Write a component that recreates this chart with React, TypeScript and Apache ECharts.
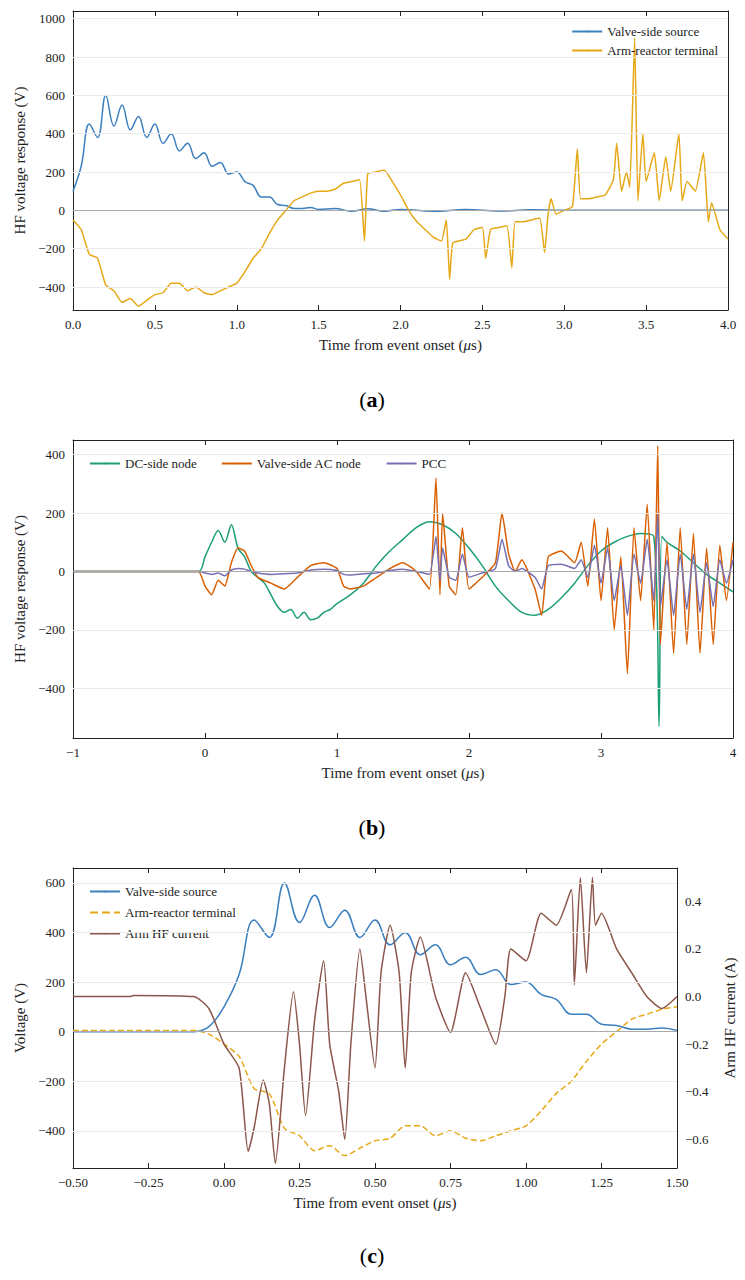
import React, { useEffect, useRef } from "react";
import * as echarts from "echarts";

// Panel (a)
const tValve = [0,0.05,0.1,0.15,0.2,0.25,0.3,0.35,0.4,0.45,0.5,0.55,0.6,0.65,0.7,0.75,0.8,0.85,0.9,0.95,1.0,1.05,1.1,1.15,1.2,1.25,1.3,1.35,1.4,1.45,1.5,1.6,1.7,1.8,1.9,2.0,2.2,2.4,2.6,2.8,3.0,3.5,4.0];
const valveSource = [100,230,450,380,600,440,550,420,490,380,450,350,400,310,350,270,300,230,250,190,200,150,130,70,70,30,25,10,10,15,5,10,-5,8,-5,5,-5,4,-4,3,0,0,0];
const tArm = [0,0.05,0.1,0.15,0.2,0.25,0.3,0.35,0.4,0.45,0.5,0.55,0.6,0.65,0.7,0.75,0.8,0.85,0.9,0.95,1.0,1.05,1.1,1.15,1.2,1.25,1.3,1.35,1.4,1.45,1.5,1.55,1.6,1.65,1.7,1.75,1.78,1.8,1.85,1.9,1.95,2.0,2.05,2.1,2.15,2.2,2.25,2.28,2.3,2.32,2.4,2.45,2.5,2.52,2.55,2.6,2.65,2.68,2.7,2.75,2.8,2.85,2.88,2.9,2.92,2.95,3.0,3.05,3.08,3.1,3.15,3.2,3.25,3.3,3.32,3.35,3.38,3.4,3.43,3.45,3.48,3.5,3.55,3.58,3.62,3.65,3.7,3.72,3.75,3.8,3.85,3.88,3.9,3.95,4.0];
const armTerminal = [-50,-100,-230,-250,-390,-420,-480,-460,-500,-470,-440,-430,-380,-380,-420,-400,-430,-440,-420,-400,-380,-320,-250,-200,-120,-50,0,50,70,90,100,100,110,140,150,160,-160,190,200,210,150,80,0,-60,-100,-140,-160,-50,-360,-170,-150,-100,-90,-250,-100,-90,-80,-300,-60,-60,-50,-40,-220,-30,60,-20,0,20,320,60,60,70,80,160,350,100,200,120,900,50,400,150,300,50,280,100,400,50,150,100,300,-60,40,-100,-150];

// Panel (b)
const tDc = [-1,-0.05,0,0.05,0.1,0.15,0.2,0.25,0.3,0.35,0.4,0.45,0.5,0.55,0.6,0.65,0.7,0.75,0.8,0.85,0.9,0.95,1.0,1.1,1.2,1.3,1.4,1.5,1.6,1.7,1.8,1.9,2.0,2.1,2.2,2.3,2.4,2.5,2.6,2.7,2.8,2.9,3.0,3.1,3.2,3.3,3.4,3.44,3.46,3.5,3.6,3.7,3.8,3.9,4.0];
const dcNode = [0,0,50,100,140,100,160,80,50,0,-20,-40,-80,-120,-140,-130,-160,-140,-165,-160,-140,-130,-110,-80,-40,20,70,110,150,170,160,130,80,20,-50,-100,-140,-150,-130,-90,-40,20,70,100,120,130,120,-530,120,100,70,30,-10,-40,-70];
const tAc = [-1,-0.05,0,0.05,0.1,0.15,0.2,0.25,0.3,0.35,0.4,0.5,0.6,0.7,0.8,0.9,1.0,1.05,1.1,1.2,1.3,1.4,1.5,1.6,1.7,1.75,1.78,1.8,1.85,1.9,1.95,2.0,2.1,2.2,2.25,2.3,2.35,2.4,2.5,2.55,2.6,2.7,2.8,2.85,2.9,2.95,3.0,3.05,3.1,3.15,3.2,3.25,3.3,3.35,3.4,3.43,3.45,3.5,3.55,3.6,3.65,3.7,3.75,3.8,3.85,3.9,3.95,4.0];
const acNode = [0,0,-50,-80,-30,-50,30,80,70,20,-20,-40,-60,-20,20,30,10,-50,-60,-50,-20,10,30,0,-60,320,-80,200,-50,-80,150,-60,-20,30,200,60,0,40,-60,-150,50,70,30,100,-50,180,-100,150,-200,50,-350,150,-100,230,-200,430,-250,100,-280,150,-250,130,-280,80,-250,90,-100,100];
const pccNode = [0,0,-5,-10,-5,-15,5,10,8,0,-5,-10,-8,-5,5,8,3,-10,-12,-8,-5,3,8,0,-10,120,-30,80,-20,-30,60,-20,-5,10,110,20,0,10,-20,-60,20,25,10,40,-20,90,-40,80,-100,20,-150,60,-40,110,-100,200,-120,40,-150,60,-130,60,-140,30,-120,40,-40,40];

// Panel (c)
const nValveC = tValve.filter((t) => t <= 1.5).length;
const tValveC = [-0.5,-0.1,-0.05,...tValve.slice(0, nValveC)];
const valveSourceC = [0,0,20,...valveSource.slice(0, nValveC)];
const nArmC = tArm.filter((t) => t <= 1.5).length;
const tArmC = [-0.5,-0.1,-0.05,...tArm.slice(0, nArmC)];
const armTerminalC = [5,5,-10,...armTerminal.slice(0, nArmC)];
const tCur = [-0.5,-0.31,-0.3,-0.1,-0.05,0,0.05,0.08,0.1,0.13,0.15,0.17,0.2,0.23,0.25,0.27,0.3,0.33,0.35,0.38,0.4,0.42,0.45,0.47,0.5,0.52,0.55,0.58,0.6,0.62,0.65,0.7,0.75,0.8,0.85,0.9,0.93,0.95,1.0,1.05,1.1,1.15,1.16,1.18,1.2,1.22,1.23,1.25,1.3,1.35,1.4,1.45,1.5];
const armCurrent = [0,0,0.005,0,-0.05,-0.2,-0.3,-0.65,-0.55,-0.35,-0.45,-0.7,-0.3,0.02,-0.2,-0.5,-0.1,0.15,-0.2,-0.4,-0.6,-0.2,0.2,0,-0.3,0.1,0.3,0.1,-0.3,0.1,0.25,0,-0.15,0.1,-0.05,-0.2,0,0.2,0.15,0.35,0.3,0.45,0.05,0.5,0.1,0.5,0.3,0.35,0.2,0.1,0,-0.05,0];

const ticksA = [-400,-200,0,200,400,600,800,1000];
const ticksB = [-400,-200,0,200,400];
const ticksC = [-400,-200,0,200,400,600];

const zip = (t: number[], v: number[]) => t.map((x, i) => [x, v[i]]);

const BLUE = "#3b7fbf", GOLD = "#e6a817", GREEN = "#1b9e77", ORANGE = "#d95f02", PURPLE = "#7570b3", BROWN = "#8c564b";
const FONT = "Liberation Serif";
const txt = { fontFamily: FONT, fontSize: 13, color: "#222" };

export default function App() {
  const ref = useRef<HTMLDivElement>(null);
  useEffect(() => {
    document.body.style.margin = "0";
    const chart = echarts.init(ref.current!, null, { renderer: "svg" });
    const grids = [
      { left: 73, right: 17, top: 11, height: 299 },
      { left: 73, right: 12, top: 440, height: 298 },
      { left: 73, right: 68, top: 868, height: 300 },
    ];
    const xRanges = [[0, 4, 0.5], [-1, 4, 1], [-0.5, 1.5, 0.25]];
    const xAxis: any[] = [];
    xRanges.forEach((r, i) => {
      xAxis.push({
        type: "value", gridIndex: i, min: r[0], max: r[1], interval: r[2],
        name: "Time from event onset ({i|μ}s)", nameLocation: "middle", nameGap: 27,
        nameTextStyle: { ...txt, fontSize: 15, rich: { i: { fontFamily: FONT, fontSize: 15, fontStyle: "italic" } } },
        axisLine: { onZero: false, lineStyle: { color: "#222" } },
        axisTick: { inside: true, length: 5, lineStyle: { color: "#222" } },
        axisLabel: { ...txt, formatter: (v: number) => (i === 2 ? v.toFixed(2) : i === 0 ? v.toFixed(1) : String(v)).replace("-", "−") },
        splitLine: { show: false },
      });
      xAxis.push({
        type: "value", gridIndex: i, min: r[0], max: r[1], interval: r[2], position: "top",
        axisLine: { onZero: false, lineStyle: { color: "#222" } },
        axisTick: { inside: true, length: 5, lineStyle: { color: "#222" } },
        axisLabel: { show: false }, splitLine: { show: false },
      });
    });
    const isMult = (v: number, step: number) => Math.abs(v / step - Math.round(v / step)) < 1e-6;
    const yMain = (i: number, min: number, max: number, interval: number, step: number, name: string, fmt?: any) => ({
      type: "value", gridIndex: i, min, max, interval, name, nameLocation: "middle", nameGap: 46,
      nameTextStyle: { ...txt, fontSize: 15 },
      axisLine: { show: true, onZero: false, lineStyle: { color: "#222" } },
      axisTick: { show: false },
      axisLabel: {
        ...txt, showMinLabel: true, showMaxLabel: true,
        formatter: (v: number) => (isMult(v, step) ? (fmt ? fmt(v) : String(Math.round(v)).replace("-", "−")) : ""),
      },
      splitLine: { show: false },
    });
    const yMirror = (i: number, min: number, max: number) => ({
      type: "value", gridIndex: i, min, max, position: "right",
      axisLine: { show: true, onZero: false, lineStyle: { color: "#222" } },
      axisTick: { show: false }, axisLabel: { show: false }, splitLine: { show: false },
    });
    const yAxis: any[] = [
      yMain(0, -520, 1040, 40, 200, "HF voltage response (V)"),
      yMirror(0, -520, 1040),
      yMain(1, -570, 450, 10, 200, "HF voltage response (V)"),
      yMirror(1, -570, 450),
      { ...yMain(2, -550, 660, 10, 200, "Voltage (V)"), nameGap: 40 },
      {
        ...yMain(2, -0.72, 0.54, 0.02, 0.2, "Arm HF current (A)", (v: number) => v.toFixed(1).replace("-", "−")),
        position: "right", nameGap: 45,
      },
    ];
    const grid = (ticks: number[]) => ({
      silent: true, symbol: "none", label: { show: false },
      data: [
        ...ticks.filter((t) => t !== 0).map((t) => ({ yAxis: t, lineStyle: { color: "#ebebeb", width: 1, type: "solid" } })),
        { yAxis: 0, lineStyle: { color: "#aaa", width: 1, type: "solid" } },
      ],
    });
    const line = (name: string, data: any[], color: string, xi: number, yi: number, smooth: number, dashed = false) => ({
      name, type: "line", data, xAxisIndex: xi, yAxisIndex: yi, showSymbol: false, symbol: "none", smooth,
      lineStyle: { color, width: 1.5, type: dashed ? "dashed" : "solid" }, itemStyle: { color },
    });
    const series: any[] = [
      { ...line("Valve-side source", zip(tValve, valveSource), BLUE, 0, 0, 0.4), markLine: grid(ticksA), z: 3 },
      line("Arm-reactor terminal", zip(tArm, armTerminal), GOLD, 0, 0, 0.15),
      { ...line("DC-side node", zip(tDc, dcNode), GREEN, 2, 2, 0.3), markLine: grid(ticksB) },
      line("Valve-side AC node", zip(tAc, acNode), ORANGE, 2, 2, 0.15),
      line("PCC", zip(tAc, pccNode), PURPLE, 2, 2, 0.15),
      { ...line("Valve-side source ", zip(tValveC, valveSourceC), BLUE, 4, 4, 0.4), markLine: grid(ticksC) },
      line("Arm-reactor terminal ", zip(tArmC, armTerminalC), GOLD, 4, 4, 0.25, true),
      line("Arm HF current", zip(tCur, armCurrent), BROWN, 4, 5, 0.2),
    ];
    const leg = { itemWidth: 30, itemHeight: 2, textStyle: { ...txt }, inactiveColor: "#ccc" };
    chart.setOption({
      animation: false,
      grid: grids,
      xAxis, yAxis, series,
      legend: [
        { ...leg, data: ["Valve-side source", "Arm-reactor terminal"], orient: "vertical", right: 22, top: 20, itemGap: 6 },
        { ...leg, data: ["DC-side node", "Valve-side AC node", "PCC"], orient: "horizontal", left: 84, top: 452, itemGap: 24 },
        { ...leg, data: ["Valve-side source ", "Arm-reactor terminal ", "Arm HF current"], orient: "vertical", left: 84, top: 880, itemGap: 8,
          formatter: (n: string) => n.trim() },
      ],
      graphic: [
        ["a", 399], ["b", 827], ["c", 1255],
      ].map(([l, y]) => ({
        type: "text", x: 372, y: y as number, style: {
          text: `(${"{b|" + l + "}"})`, fill: "#000", font: `22px ${FONT}`, align: "center", verticalAlign: "middle",
          rich: { b: { font: `bold 22px ${FONT}` } },
        },
      })),
    });
    return () => chart.dispose();
  }, []);
  return <div ref={ref} style={{ width: 745, height: 1280, position: "absolute", left: 0, top: 0, background: "#fff" }} />;
}
